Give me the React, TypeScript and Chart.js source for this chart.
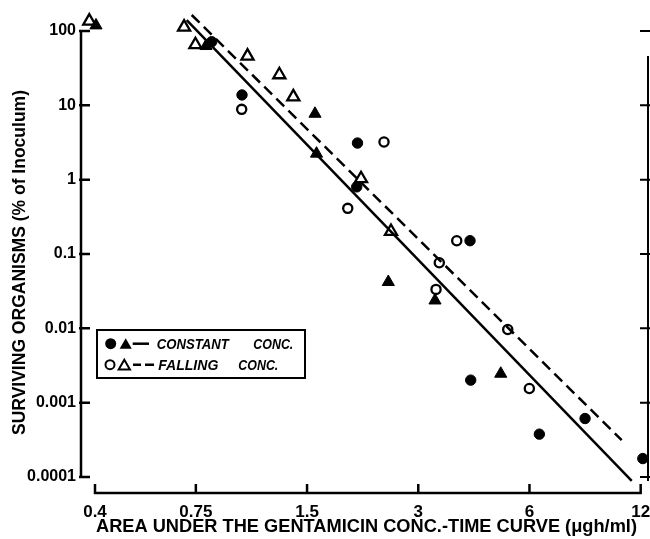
import React, { useEffect, useRef } from "react";
import { Chart, registerables } from "chart.js";
Chart.register(...registerables);

// ---- data ----
const constCircleX = [0.828, 1.0, 2.054, 2.044, 4.142, 4.16, 6.381, 8.484, 12.16];
const constCircleY = [71.8, 13.8, 3.11, 0.8, 0.151, 0.00201, 0.000377, 0.000612, 0.000177];
const constTriX = [0.4025, 0.799, 1.576, 1.591, 2.489, 3.33, 5.016];
const constTriY = [119, 62.8, 7.7, 2.24, 0.042, 0.0237, 0.00245];
const fallCircleX = [0.998, 2.423, 1.933, 3.813, 3.42, 3.351, 5.24, 5.995];
const fallCircleY = [8.83, 3.21, 0.411, 0.151, 0.0762, 0.0334, 0.00966, 0.00155];
const fallTriX = [0.386, 0.697, 0.748, 1.035, 1.262, 1.377, 2.1, 2.531];
const fallTriY = [136, 113, 65.4, 46, 25.8, 13.0, 1.03, 0.201];
const constLineX = [0.7085, 11.35];
const constLineY = [140.6, 0.0000887];
const fallLineX = [0.7309, 10.66];
const fallLineY = [164.2, 0.000313];

const xTickValues = [0.4, 0.75, 1.5, 3, 6, 12];
const xTickLabels = ["0.4", "0.75", "1.5", "3", "6", "12"];
const yTickValues = [0.0001, 0.001, 0.01, 0.1, 1, 10, 100];
const yTickLabels = ["0.0001", "0.001", "0.01", "0.1", "1", "10", "100"];
const xMin = 0.3643, xMax = 12.56, yMin = 0.0000609, yMax = 191.7;

const xTitle = "AREA UNDER THE GENTAMICIN CONC.-TIME CURVE (\u03bcgh/ml)";
const yTitle = "SURVIVING ORGANISMS (% of Inoculum)";
const legendRow1 = ["CONSTANT", "CONC."];
const legendRow2 = ["FALLING", "CONC."];

const zip = (xs: number[], ys: number[]) => xs.map((x, i) => ({ x, y: ys[i] }));

const FONT = "'Liberation Sans', Arial, sans-serif";

function fitText(ctx: CanvasRenderingContext2D, text: string, x: number, y: number, width: number, font: string, rot = 0) {
  ctx.save();
  ctx.font = font;
  const w = ctx.measureText(text).width;
  ctx.translate(x, y);
  if (rot) ctx.rotate(rot);
  ctx.scale(width / w, 1);
  ctx.textAlign = "left";
  ctx.textBaseline = "alphabetic";
  ctx.fillStyle = "#000";
  ctx.fillText(text, 0, 0);
  ctx.restore();
}

function tri(ctx: CanvasRenderingContext2D, cx: number, cy: number, r: number, fill: boolean) {
  ctx.beginPath();
  ctx.moveTo(cx, cy - r);
  ctx.lineTo(cx + r * 0.866, cy + r / 2);
  ctx.lineTo(cx - r * 0.866, cy + r / 2);
  ctx.closePath();
  if (fill) { ctx.fillStyle = "#000"; ctx.fill(); }
  else { ctx.fillStyle = "#fff"; ctx.fill(); ctx.lineWidth = 2; ctx.strokeStyle = "#000"; ctx.stroke(); }
}

const decor = {
  id: "decor",
  afterDraw(chart: any) {
    const ctx: CanvasRenderingContext2D = chart.ctx;
    const xs = chart.scales.x, ys = chart.scales.y;
    const area = chart.chartArea;
    ctx.save();
    ctx.strokeStyle = "#000";
    ctx.lineWidth = 2.5;
    ctx.lineCap = "butt";
    // left axis
    const yTop = ys.getPixelForValue(yTickValues[yTickValues.length - 1]);
    const yBot = ys.getPixelForValue(yTickValues[0]);
    const lx = area.left + 1;
    ctx.beginPath();
    ctx.moveTo(lx, yTop - 1); ctx.lineTo(lx, yBot + 1);
    yTickValues.forEach((v) => { const p = ys.getPixelForValue(v); ctx.moveTo(lx - 2, p); ctx.lineTo(lx + 9, p); });
    ctx.stroke();
    // right axis
    const rx = area.right;
    ctx.lineWidth = 2;
    ctx.beginPath();
    ctx.moveTo(rx, yTop + 25); ctx.lineTo(rx, yBot + 4);
    yTickValues.forEach((v) => { const p = ys.getPixelForValue(v); ctx.moveTo(rx + 2, p); ctx.lineTo(rx - 8, p); });
    ctx.stroke();
    // bottom axis
    ctx.lineWidth = 2.5;
    const by = area.bottom;
    const x0 = xs.getPixelForValue(xTickValues[0]);
    const x1 = xs.getPixelForValue(xTickValues[xTickValues.length - 1]);
    ctx.beginPath();
    ctx.moveTo(x0 - 1, by); ctx.lineTo(x1 + 1, by);
    xTickValues.forEach((v) => { const p = xs.getPixelForValue(v); ctx.moveTo(p, by + 1); ctx.lineTo(p, by - 9); });
    ctx.stroke();

    // titles
    fitText(ctx, xTitle, 96, 532, 541, `bold 18px ${FONT}`);
    fitText(ctx, yTitle, 25, 435, 345, `bold 18px ${FONT}`, -Math.PI / 2);

    // legend
    ctx.lineWidth = 2;
    ctx.strokeStyle = "#000";
    ctx.strokeRect(97, 330, 208, 48);
    const r1 = 343.7, r2 = 364.7;
    ctx.fillStyle = "#000";
    ctx.beginPath(); ctx.arc(110.7, r1, 5.5, 0, Math.PI * 2); ctx.fill();
    tri(ctx, 125.7, r1 + 1.5, 7, true);
    ctx.lineWidth = 2.5;
    ctx.beginPath(); ctx.moveTo(132.7, r1); ctx.lineTo(149, r1); ctx.stroke();
    ctx.lineWidth = 2;
    ctx.fillStyle = "#fff";
    ctx.beginPath(); ctx.arc(110, r2, 4.5, 0, Math.PI * 2); ctx.fill(); ctx.stroke();
    tri(ctx, 124.3, r2 + 1.5, 6.5, false);
    ctx.lineWidth = 2.5;
    ctx.beginPath(); ctx.moveTo(133, r2); ctx.lineTo(141, r2); ctx.moveTo(145, r2); ctx.lineTo(154, r2); ctx.stroke();
    const lf = `italic bold 15px ${FONT}`;
    fitText(ctx, legendRow1[0], 156.7, 349, 72, lf);
    fitText(ctx, legendRow1[1], 253.3, 349, 40, lf);
    fitText(ctx, legendRow2[0], 158.3, 370, 60, lf);
    fitText(ctx, legendRow2[1], 238.3, 370, 40, lf);
    ctx.restore();
  },
};

export default function App() {
  const ref = useRef<HTMLCanvasElement>(null);
  useEffect(() => {
    document.body.style.margin = "0";
    const tickFont = { family: FONT, weight: "bold" as const };
    const chart = new Chart(ref.current!, {
      type: "scatter",
      data: {
        datasets: [
          { label: "Constant fit", data: zip(constLineX, constLineY), showLine: true, pointRadius: 0, borderColor: "#000", borderWidth: 2.5, fill: false },
          { label: "Falling fit", data: zip(fallLineX, fallLineY), showLine: true, pointRadius: 0, borderColor: "#000", borderWidth: 2.5, borderDash: [11, 6], fill: false },
          { label: "Constant (circles)", data: zip(constCircleX, constCircleY), pointStyle: "circle", pointRadius: 5.2, backgroundColor: "#000", borderColor: "#000", borderWidth: 1 },
          { label: "Constant (triangles)", data: zip(constTriX, constTriY), pointStyle: "triangle", pointRadius: 7, backgroundColor: "#000", borderColor: "#000", borderWidth: 1 },
          { label: "Falling (circles)", data: zip(fallCircleX, fallCircleY), pointStyle: "circle", pointRadius: 4.6, backgroundColor: "#fff", borderColor: "#000", borderWidth: 2.3 },
          { label: "Falling (triangles)", data: zip(fallTriX, fallTriY), pointStyle: "triangle", pointRadius: 7, backgroundColor: "#fff", borderColor: "#000", borderWidth: 2.3 },
        ],
      },
      options: {
        responsive: false,
        animation: false,
        devicePixelRatio: 1,
        clip: false as any,
        layout: { autoPadding: false, padding: { top: 10, right: 2, left: 0, bottom: 0 } },
        plugins: { legend: { display: false }, tooltip: { enabled: false } },
        scales: {
          x: {
            type: "logarithmic", min: xMin, max: xMax, position: "bottom",
            grid: { display: false, drawTicks: false }, border: { display: false },
            afterBuildTicks: (s: any) => { s.ticks = xTickValues.map((v) => ({ value: v })); },
            afterFit: (s: any) => { s.height = 46; s.paddingLeft = 0; s.paddingRight = 0; s.paddingTop = 0; s.paddingBottom = 0; },
            ticks: { autoSkip: false, maxRotation: 0, minRotation: 0, padding: 9, color: "#000", font: { ...tickFont, size: 17 }, callback: (_v: any, i: number) => xTickLabels[i] },
          },
          y: {
            type: "logarithmic", min: yMin, max: yMax, position: "left",
            grid: { display: false, drawTicks: false }, border: { display: false },
            afterBuildTicks: (s: any) => { s.ticks = yTickValues.map((v) => ({ value: v })); },
            afterFit: (s: any) => { s.width = 80; s.paddingLeft = 0; s.paddingRight = 0; s.paddingTop = 0; s.paddingBottom = 0; },
            ticks: { autoSkip: false, padding: 4, color: "#000", font: { ...tickFont, size: 16 }, callback: (_v: any, i: number) => yTickLabels[i] },
          },
        },
      } as any,
      plugins: [decor],
    });
    return () => chart.destroy();
  }, []);
  return (
    <div style={{ width: 650, height: 539 }}>
      <canvas ref={ref} width={650} height={539} style={{ display: "block" }} />
    </div>
  );
}
